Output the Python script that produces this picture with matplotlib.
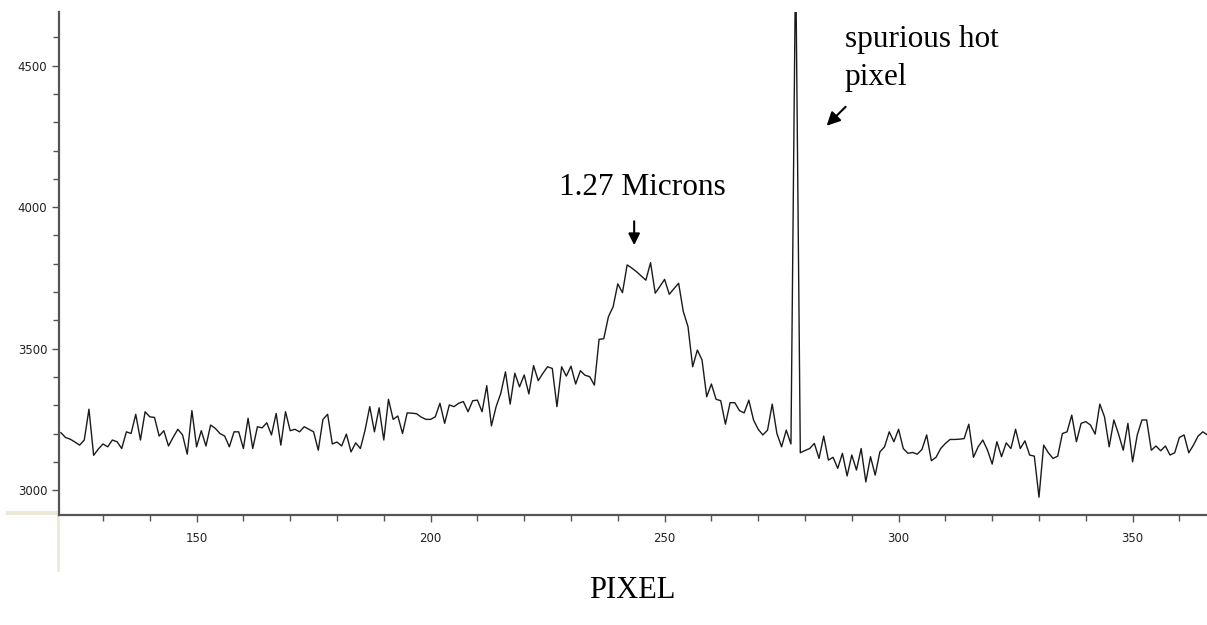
import numpy as np
import matplotlib
matplotlib.use("Agg")
import matplotlib.pyplot as plt
from matplotlib.ticker import MultipleLocator
from matplotlib.lines import Line2D

# detector pixel index and measured counts
pixels = np.arange(121, 367)
counts = [
    3203, 3186, 3180, 3170, 3159, 3177, 3286, 3123, 3145, 3163,  # 121-130
    3153, 3177, 3171, 3147, 3206, 3200, 3268, 3177, 3277, 3259,  # 131-140
    3257, 3191, 3210, 3156, 3187, 3215, 3195, 3127, 3281, 3153,  # 141-150
    3210, 3156, 3230, 3218, 3200, 3191, 3153, 3206, 3206, 3147,  # 151-160
    3254, 3147, 3224, 3220, 3238, 3195, 3271, 3159, 3277, 3210,  # 161-170
    3215, 3206, 3224, 3215, 3206, 3141, 3250, 3268, 3163, 3170,  # 171-180
    3156, 3198, 3135, 3167, 3147, 3212, 3295, 3206, 3291, 3177,  # 181-190
    3321, 3250, 3262, 3200, 3273, 3272, 3270, 3258, 3250, 3250,  # 191-200
    3259, 3307, 3236, 3301, 3295, 3307, 3313, 3277, 3316, 3318,  # 201-210
    3277, 3369, 3227, 3295, 3342, 3418, 3304, 3413, 3365, 3407,  # 211-220
    3340, 3440, 3387, 3413, 3436, 3430, 3295, 3436, 3403, 3438,  # 221-230
    3375, 3422, 3406, 3401, 3371, 3533, 3535, 3613, 3648, 3729,  # 231-240
    3698, 3796, 3785, 3772, 3757, 3742, 3804, 3696, 3720, 3745,  # 241-250
    3692, 3712, 3731, 3631, 3578, 3436, 3495, 3460, 3330, 3375,  # 251-260
    3321, 3316, 3233, 3309, 3309, 3281, 3273, 3318, 3248, 3215,  # 261-270
    3195, 3212, 3304, 3200, 3153, 3212, 3163, 4900, 3132, 3140,  # 271-280
    3147, 3165, 3112, 3191, 3106, 3116, 3077, 3130, 3050, 3124,  # 281-290
    3071, 3147, 3029, 3118, 3053, 3135, 3153, 3206, 3171, 3215,  # 291-300
    3147, 3130, 3133, 3127, 3144, 3195, 3104, 3116, 3147, 3165,  # 301-310
    3179, 3179, 3180, 3182, 3233, 3116, 3153, 3177, 3141, 3092,  # 311-320
    3171, 3118, 3167, 3147, 3215, 3147, 3174, 3124, 3120, 2975,  # 321-330
    3159, 3132, 3112, 3120, 3200, 3206, 3265, 3171, 3236, 3242,  # 331-340
    3230, 3198, 3304, 3259, 3153, 3248, 3198, 3141, 3236, 3100,  # 341-350
    3195, 3248, 3248, 3141, 3156, 3139, 3156, 3124, 3132, 3186,  # 351-360
    3195, 3132, 3159, 3191, 3206, 3195,                          # 361-366
]

W, H = 1207, 625
fig = plt.figure(figsize=(W / 100, H / 100), dpi=100)
fig.patch.set_facecolor("white")

# light window-frame lines of the original screenshot
fig.add_artist(Line2D([8 / W, 1], [1 - 513 / H, 1 - 513 / H], color="#ECE9D8", lw=3, zorder=0))
fig.add_artist(Line2D([58 / W, 58 / W], [1 - 515 / H, 1 - 570 / H], color="#ECE9D8", lw=2, zorder=0))

ax = fig.add_axes([59 / W, 1 - 515 / H, (W - 59) / W, (515 - 12) / H])
ax.plot(pixels, counts, color="#1a1a1a", lw=1.0)

ax.set_xlim(120.6, 365.9)
ax.set_ylim(2912, 4690)

ax.xaxis.set_major_locator(MultipleLocator(50))
ax.xaxis.set_minor_locator(MultipleLocator(10))
ax.yaxis.set_major_locator(MultipleLocator(500))
ax.yaxis.set_minor_locator(MultipleLocator(100))

for s in ["top", "right"]:
    ax.spines[s].set_visible(False)
for s in ["left", "bottom"]:
    ax.spines[s].set_color("#555555")
    ax.spines[s].set_linewidth(1.6)

ax.tick_params(which="both", direction="out", colors="#555555", labelcolor="#222222",
               labelsize=8.5)
ax.tick_params(which="major", length=5, width=1)
ax.tick_params(which="minor", length=4, width=1)
ax.tick_params(axis="x", which="major", pad=7)
for lab in ax.get_xticklabels() + ax.get_yticklabels():
    lab.set_family("DejaVu Sans")

serif = "Liberation Serif"
ax.text(245.3, 4043, "1.27 Microns", family=serif, fontsize=22.5,
        ha="center", va="baseline")
ax.annotate("", xy=(243.5, 3856), xytext=(243.5, 3960),
            arrowprops=dict(arrowstyle="-|>", color="black", lw=1.5,
                            mutation_scale=17))

ax.text(288.5, 4567, "spurious hot", family=serif, fontsize=22.5, ha="left", va="baseline")
ax.text(288.5, 4433, "pixel", family=serif, fontsize=22.5, ha="left", va="baseline")
ax.annotate("", xy=(284.2, 4281), xytext=(289.1, 4362),
            arrowprops=dict(arrowstyle="-|>", color="black", lw=1.5,
                            mutation_scale=20))

fig.text(632 / W, 1 - 590 / H, "PIXEL", family=serif, fontsize=22,
         ha="center", va="center")

fig.savefig("out.png", dpi=100)
